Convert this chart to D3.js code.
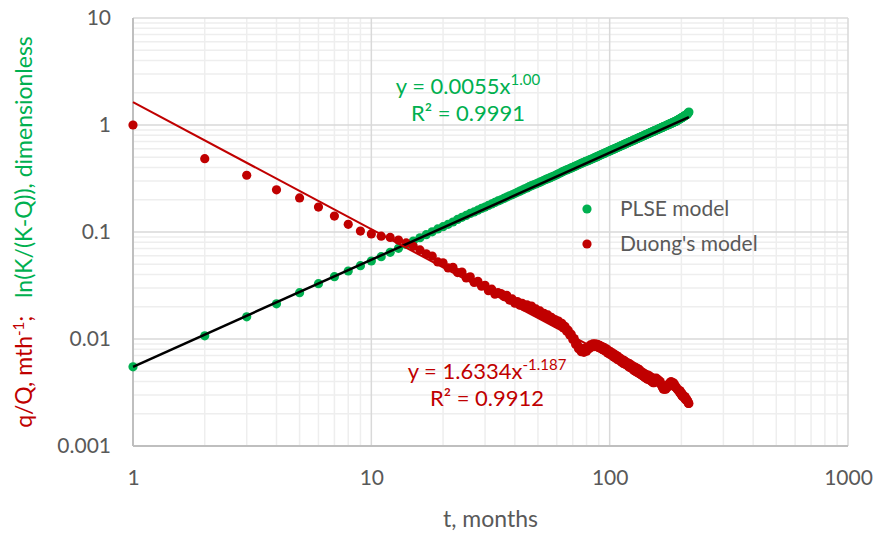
<!DOCTYPE html>
<html>
<head>
<meta charset="utf-8">
<script src="https://cdn.jsdelivr.net/npm/d3@7"></script>
<style>
  html, body { margin: 0; padding: 0; background: #fff; }
  svg { display: block; font-family: Lato, "Open Sans", sans-serif; }
</style>
</head>
<body>
<svg id="chart" width="883" height="536"></svg>
<script>
// Monthly diagnostics: PLSE transform ln(K/(K-Q)) and Duong's q/Q ratio
const plse = [
  0.0055,0.0107,0.0161,0.0213,0.0271,0.0329,0.0382,0.0432,0.0484,0.0536,
  0.0588,0.0646,0.0704,0.0765,0.0822,0.0884,0.0945,0.1003,0.1068,0.1121,
  0.118,0.124,0.131,0.137,0.143,0.149,0.154,0.160,0.166,0.171,
  0.177,0.183,0.189,0.195,0.200,0.206,0.212,0.218,0.223,0.229,
  0.235,0.241,0.247,0.253,0.258,0.265,0.271,0.276,0.281,0.287,
  0.292,0.298,0.304,0.310,0.315,0.320,0.326,0.332,0.337,0.343,
  0.350,0.356,0.363,0.369,0.375,0.380,0.386,0.391,0.397,0.402,
  0.408,0.414,0.420,0.425,0.431,0.437,0.443,0.448,0.454,0.460,
  0.463,0.469,0.475,0.480,0.486,0.492,0.498,0.503,0.509,0.515,
  0.521,0.526,0.532,0.538,0.543,0.549,0.555,0.561,0.566,0.572,
  0.578,0.583,0.589,0.595,0.601,0.606,0.612,0.618,0.623,0.629,
  0.635,0.641,0.646,0.652,0.658,0.664,0.669,0.675,0.681,0.686,
  0.692,0.698,0.704,0.709,0.715,0.721,0.726,0.732,0.738,0.744,
  0.749,0.755,0.761,0.766,0.772,0.778,0.784,0.789,0.795,0.801,
  0.807,0.812,0.818,0.824,0.829,0.835,0.841,0.847,0.852,0.858,
  0.864,0.869,0.875,0.881,0.887,0.892,0.898,0.904,0.909,0.915,
  0.921,0.927,0.932,0.938,0.944,0.950,0.955,0.961,0.967,0.972,
  0.978,0.984,0.990,0.995,1.001,1.007,1.012,1.018,1.024,1.030,
  1.035,1.041,1.047,1.052,1.058,1.064,1.070,1.075,1.081,1.087,
  1.095,1.102,1.110,1.117,1.125,1.132,1.140,1.148,1.156,1.164,
  1.172,1.180,1.188,1.196,1.205,1.213,1.222,1.231,1.240,1.250,
  1.260,1.270,1.285,1.300,1.320
];

const duong = [
  1.0,0.484,0.339,0.248,0.208,0.171,0.141,0.118,0.102,0.096,
  0.0915,0.089,0.084,0.079,0.0735,0.068,0.0625,0.0595,0.0525,0.0515,
  0.0462,0.0468,0.0418,0.0422,0.0372,0.0381,0.0338,0.0346,0.0312,0.0318,
  0.0283,0.0292,0.0262,0.0271,0.0266,0.0249,0.0256,0.0231,0.0237,0.0216,
  0.0224,0.0207,0.0215,0.0199,0.0209,0.0193,0.0203,0.0185,0.0191,0.0174,
  0.0183,0.0166,0.0174,0.0159,0.0168,0.0152,0.0159,0.0145,0.0152,0.0139,
  0.0147,0.0135,0.0140,0.0127,0.0131,0.0118,0.0121,0.0109,0.0111,0.0099,
  0.0101,0.0089,0.0091,0.0081,0.0083,0.0076,0.0081,0.0075,0.0082,0.0077,
  0.0084,0.0081,0.0088,0.0084,0.0090,0.0085,0.0090,0.0085,0.0089,0.0083,
  0.0087,0.0081,0.0085,0.0079,0.0083,0.0077,0.0081,0.0074,0.0078,0.0072,
  0.0076,0.0070,0.0074,0.0068,0.0072,0.0066,0.0070,0.0064,0.0068,0.0063,
  0.0066,0.0061,0.0064,0.0059,0.0063,0.0058,0.0061,0.0057,0.0060,0.0055,
  0.0059,0.0054,0.0057,0.0053,0.0056,0.0051,0.0055,0.0050,0.0054,0.0049,
  0.0053,0.0048,0.0052,0.0047,0.0050,0.0046,0.0049,0.0045,0.0048,0.0044,
  0.0047,0.0043,0.0046,0.0042,0.0046,0.0042,0.0045,0.0041,0.0044,0.0040,
  0.0043,0.0039,0.0043,0.0039,0.0042,0.0040,0.0043,0.0041,0.0042,0.0040,
  0.0041,0.0039,0.0040,0.0038,0.0037,0.0036,0.0035,0.0034,0.0035,0.0034,
  0.0035,0.0034,0.0036,0.0035,0.0037,0.0036,0.0038,0.0037,0.0039,0.0038,
  0.0040,0.0038,0.0039,0.0038,0.0039,0.0037,0.0038,0.0036,0.0036,0.0035,
  0.0035,0.0034,0.0034,0.0033,0.0033,0.0032,0.0033,0.0031,0.0032,0.0030,
  0.0031,0.0029,0.0030,0.0029,0.0029,0.0028,0.0029,0.0027,0.0028,0.0027,
  0.0027,0.0026,0.0026,0.0025,0.0025
];

// Power-law trendline coefficients (y = a * t^b)
const plseFit = { a: 0.0055, b: 1.00, r2: "0.9991" };
const duongFit = { a: 1.6334, b: -1.187, r2: "0.9912" };

const xTicks = [1, 10, 100, 1000];
const yTicks = [0.001, 0.01, 0.1, 1, 10];

const GREEN = "#00B050", RED = "#C00000", GREY = "#595959";

const svg = d3.select("#chart");
const plotLeft = 133, plotRight = 848, plotTop = 18, plotBottom = 446;

const x = d3.scaleLog().domain([1, 1000]).range([plotLeft, plotRight]);
const y = d3.scaleLog().domain([0.001, 10]).range([plotBottom, plotTop]);

// Minor and major gridlines on both log axes
function minorValues(domain) {
  const out = [];
  for (let p = Math.log10(domain[0]); p < Math.log10(domain[1]); p++) {
    for (let k = 2; k <= 9; k++) out.push(k * Math.pow(10, p));
  }
  return out;
}
const grid = svg.append("g");
grid.selectAll(".vminor").data(minorValues(x.domain())).join("line")
  .attr("x1", d => x(d)).attr("x2", d => x(d)).attr("y1", plotTop).attr("y2", plotBottom)
  .attr("stroke", "#eeeeee").attr("stroke-width", 1.5);
grid.selectAll(".hminor").data(minorValues(y.domain())).join("line")
  .attr("y1", d => y(d)).attr("y2", d => y(d)).attr("x1", plotLeft).attr("x2", plotRight)
  .attr("stroke", "#eeeeee").attr("stroke-width", 1.5);
grid.selectAll(".vmajor").data(xTicks.slice(1)).join("line")
  .attr("x1", d => x(d)).attr("x2", d => x(d)).attr("y1", plotTop).attr("y2", plotBottom)
  .attr("stroke", "#d9d9d9").attr("stroke-width", 1.5);
grid.selectAll(".hmajor").data(yTicks.slice(1)).join("line")
  .attr("y1", d => y(d)).attr("y2", d => y(d)).attr("x1", plotLeft).attr("x2", plotRight)
  .attr("stroke", "#d9d9d9").attr("stroke-width", 1.5);

// Axes (labels only; the axis lines are drawn separately)
const xAxis = svg.append("g").attr("transform", `translate(0,${plotBottom})`)
  .call(d3.axisBottom(x).tickValues(xTicks).tickFormat(d => String(d)).tickSize(0));
const yAxis = svg.append("g").attr("transform", `translate(${plotLeft},0)`)
  .call(d3.axisLeft(y).tickValues(yTicks).tickFormat(d => String(d)).tickSize(0).tickPadding(22));
[xAxis, yAxis].forEach(g => {
  g.select(".domain").remove();
  g.selectAll("text").attr("fill", GREY).style("font-size", "21px").style("font-family", "Lato");
});
xAxis.selectAll("text").attr("y", 32).attr("dy", "0.35em");

svg.append("line").attr("x1", plotLeft).attr("x2", plotLeft).attr("y1", plotTop).attr("y2", plotBottom)
  .attr("stroke", "#bfbfbf").attr("stroke-width", 2);
svg.append("line").attr("x1", plotLeft).attr("x2", plotRight).attr("y1", plotBottom).attr("y2", plotBottom)
  .attr("stroke", "#bfbfbf").attr("stroke-width", 2);

// Data points
const R = 4.6;
svg.append("g").selectAll("circle").data(plse).join("circle")
  .attr("cx", (d, i) => x(i + 1)).attr("cy", d => y(d)).attr("r", R).attr("fill", GREEN);
svg.append("g").selectAll("circle").data(duong).join("circle")
  .attr("cx", (d, i) => x(i + 1)).attr("cy", d => y(d)).attr("r", R).attr("fill", RED);

// Trendlines over the data range
const tRange = [1, duong.length];
const line = d3.line().x(d => x(d[0])).y(d => y(d[1]));
svg.append("path")
  .datum(tRange.map(t => [t, plseFit.a * Math.pow(t, plseFit.b)]))
  .attr("d", line).attr("fill", "none").attr("stroke", "#000").attr("stroke-width", 2.5);
svg.append("path")
  .datum(tRange.map(t => [t, duongFit.a * Math.pow(t, duongFit.b)]))
  .attr("d", line).attr("fill", "none").attr("stroke", RED).attr("stroke-width", 2);

// Trendline equations
function equation(cx, cy, color, coef, exp, r2) {
  const g = svg.append("g").attr("fill", color).style("font-size", "22px");
  const t1 = g.append("text").attr("x", cx).attr("y", cy).attr("text-anchor", "middle");
  t1.append("tspan").text(`y = ${coef}x`);
  t1.append("tspan").attr("dy", -9).style("font-size", "15px").text(exp);
  g.append("text").attr("x", cx).attr("y", cy + 27).attr("text-anchor", "middle")
    .text(`R² = ${r2}`);
}
equation(468, 94, GREEN, "0.0055", "1.00", plseFit.r2);
equation(487, 379, RED, "1.6334", "-1.187", duongFit.r2);

// Legend
const legend = [
  { name: "PLSE model", color: GREEN },
  { name: "Duong's model", color: RED }
];
const lg = svg.append("g");
legend.forEach((d, i) => {
  const cy = 209 + i * 35;
  lg.append("circle").attr("cx", 587).attr("cy", cy).attr("r", R).attr("fill", d.color);
  lg.append("text").attr("x", 620).attr("y", cy).attr("dy", "0.35em")
    .attr("fill", GREY).style("font-size", "21px").text(d.name);
});

// Axis titles
svg.append("text").attr("x", (plotLeft + plotRight) / 2).attr("y", 527).attr("text-anchor", "middle")
  .attr("fill", GREY).style("font-size", "23px").text("t, months");

const yt = svg.append("text").attr("transform", "translate(32,232) rotate(-90)")
  .attr("text-anchor", "middle").style("font-size", "23px");
yt.append("tspan").attr("fill", RED).text("q/Q, mth");
yt.append("tspan").attr("fill", RED).attr("dy", -8).style("font-size", "15px").text("-1");
yt.append("tspan").attr("fill", RED).attr("dy", 8).text(";");
yt.append("tspan").attr("fill", GREEN).text("\u00a0\u00a0\u00a0ln(K/(K-Q)), dimensionless");
</script>
</body>
</html>
